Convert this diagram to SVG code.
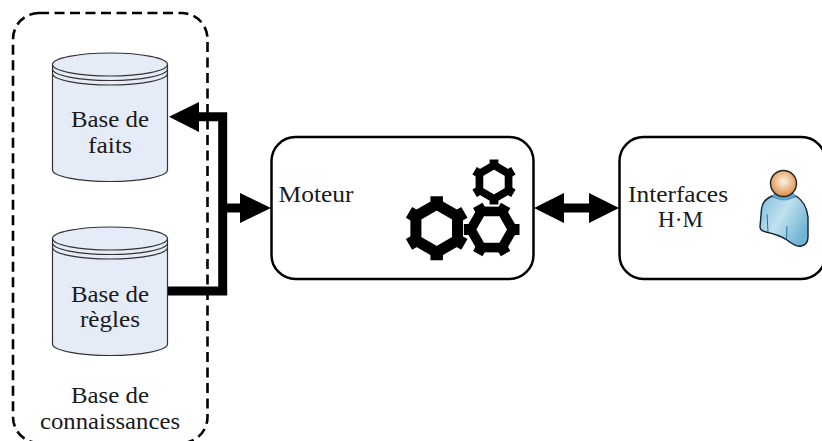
<svg xmlns="http://www.w3.org/2000/svg" xmlns:xlink="http://www.w3.org/1999/xlink" width="822" height="441" viewBox="0 0 822 441">
<style>
text{font-family:"Liberation Serif","Times New Roman",serif;font-size:24px;fill:#1a1a1a;text-anchor:middle}
.box{fill:#fff;stroke:#000;stroke-width:2.5}
.cyl{fill:#e6ecf7;stroke:#333;stroke-width:1.2}
.rim{fill:none;stroke:#333;stroke-width:1.2}
.conn{fill:none;stroke:#000;stroke-width:9}
.head{fill:#000;stroke:none}
</style>
<defs>
<g id="gear">
<polygon points="0,-24 20.8,-12 20.8,12 0,24 -20.8,12 -20.8,-12" fill="none" stroke="#000" stroke-width="11"/>
<path d="M0-32V-20M27.7-16L17.3-10M27.7 16L17.3 10M0 32V20M-27.700 16L-17.3 10M-27.7-16L-17.3-10" fill="none" stroke="#000" stroke-width="12.500"/>
</g>
<g id="cylinder">
<path class="cyl" d="M52.5 64.5V170A57.5 11.5 0 0 0 167.5 170V64.5A57.5 11.5 0 0 0 52.5 64.5Z"/>
<path class="rim" d="M52.5 64.5A57.5 11.5 0 0 0 167.5 64.5M52.5 69A57.5 11.5 0 0 0 167.5 69M52.5 73.500A57.5 11.5 0 0 0 167.5 73.500"/>
</g>
<radialGradient id="skin" cx="0.5" cy="0.42" r="0.62"><stop offset="0" stop-color="#fbf3ea"/><stop offset="0.5" stop-color="#edbd8c"/><stop offset="1" stop-color="#cf8640"/></radialGradient>
<linearGradient id="shirt" x1="0" y1="0" x2="1" y2="0.6"><stop offset="0" stop-color="#7fbcdc"/><stop offset="0.5" stop-color="#c0e2ee"/><stop offset="1" stop-color="#72b4d4"/></linearGradient>
</defs>

<g id="knowledge-base">
<rect x="13" y="13" width="194.500" height="430" rx="26" fill="none" stroke="#000" stroke-width="2.600" stroke-dasharray="10 5.500"/>
<text x="110" y="403" textLength="78" lengthAdjust="spacingAndGlyphs">Base de</text>
<text x="110" y="429" textLength="140" lengthAdjust="spacingAndGlyphs">connaissances</text>
</g>

<g id="base-faits">
<use xlink:href="#cylinder"/>
<text x="110" y="127" textLength="78" lengthAdjust="spacingAndGlyphs">Base de</text>
<text x="110" y="153" textLength="44" lengthAdjust="spacingAndGlyphs">faits</text>
</g>

<g id="base-regles">
<use xlink:href="#cylinder" y="174"/>
<text x="110" y="302" textLength="78" lengthAdjust="spacingAndGlyphs">Base de</text>
<text x="110" y="327" textLength="60" lengthAdjust="spacingAndGlyphs">règles</text>
</g>

<g id="moteur">
<rect class="box" x="271.500" y="137" width="262" height="142" rx="24"/>
<text x="316" y="202" textLength="75" lengthAdjust="spacingAndGlyphs">Moteur</text>
<use xlink:href="#gear" transform="translate(436.700 228.300)"/>
<use xlink:href="#gear" transform="translate(491.700 229.500) rotate(30) scale(0.87)"/>
<use xlink:href="#gear" transform="translate(494 182) scale(0.7)"/>
</g>

<g id="interfaces">
<rect class="box" x="619.500" y="137" width="206" height="142" rx="24"/>
<text x="678" y="202" textLength="100" lengthAdjust="spacingAndGlyphs">Interfaces</text>
<text x="680.500" y="227" textLength="45" lengthAdjust="spacingAndGlyphs">H·M</text>
<path d="M772 196C765 199 762 203 761.500 209L760 227C760 230 762 231 766 232C775 234 781 236 787 240C792 244 797 247 801 246C806 245 808 241 808 237L808 217C807 208 804 201 796 196C788 200 780 200 772 196Z" fill="url(#shirt)" stroke="#123" stroke-width="1.400"/>
<path d="M772 196C780 202 788 202 796 196L793 192H775Z" fill="#5da2cc"/>
<path d="M787 226L786.500 239M767 214L768 232" fill="none" stroke="#2f6f9c" stroke-width="1"/>
<circle cx="783.500" cy="183.500" r="13" fill="url(#skin)" stroke="#222" stroke-width="1.400"/>
</g>

<g id="connectors">
<path class="conn" d="M168 291H222.700V116.700H195"/>
<path class="conn" d="M222.700 208H245"/>
<path class="conn" d="M560 208H595"/>
<polygon class="head" points="169,116.700 199,102 199,132"/>
<polygon class="head" points="271,208 240,193 240,223"/>
<polygon class="head" points="534,208 564,193 564,223"/>
<polygon class="head" points="619,208 589,193 589,223"/>
</g>
</svg>
